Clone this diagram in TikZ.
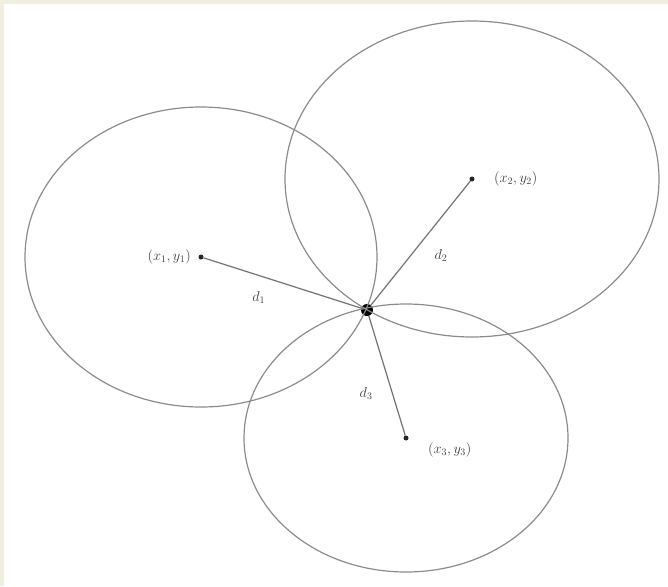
\documentclass[tikz,border=0pt]{standalone}
\usepackage{amsmath}
\usetikzlibrary{positioning}
\definecolor{paper}{RGB}{240,238,222}

\begin{document}
\begin{tikzpicture}[x=1pt, y=-1pt,
  every node/.style={font=\Large, text=black!75},
  rangecircle/.style={draw=black!45, line width=1.2pt},
  dline/.style={draw=black!55, line width=1.2pt},
  anchorpt/.style={circle, fill=black!85, inner sep=0pt, minimum size=5pt},
  target/.style={circle, fill=black, inner sep=0pt, minimum size=12pt}
]
  % background and frame
  \fill[paper] (0,0) rectangle (668,586);
  \fill[white] (4,4) rectangle (668,586);
  \useasboundingbox (0,0) rectangle (668,586);

  % anchors and the unknown point
  \node[anchorpt] (s1) at (201,257) {};
  \node[anchorpt] (s2) at (472,179) {};
  \node[anchorpt] (s3) at (406,438) {};
  \node[target] (p) at (367,310) {};

  % range circles
  \draw[rangecircle] (s1.center) ellipse [x radius=176, y radius=150];
  \draw[rangecircle] (s2.center) ellipse [x radius=187, y radius=158];
  \draw[rangecircle] (s3.center) ellipse [x radius=162, y radius=134];

  \node[left=4pt of s1] (l1) {$(x_1,y_1)$};
  \node[right=16pt of s2] (l2) {$(x_2,y_2)$};
  \node[right=16pt of s3, yshift=-12pt] (l3) {$(x_3,y_3)$};

  \draw[dline] (s1) -- (p) node[pos=0.35, below=12pt] {$d_1$};
  \draw[dline] (s2) -- (p) node[pos=0.6, right=20pt] {$d_2$};
  \draw[dline] (s3) -- (p) node[pos=0.35, left=16pt] {$d_3$};
\end{tikzpicture}
\end{document}
